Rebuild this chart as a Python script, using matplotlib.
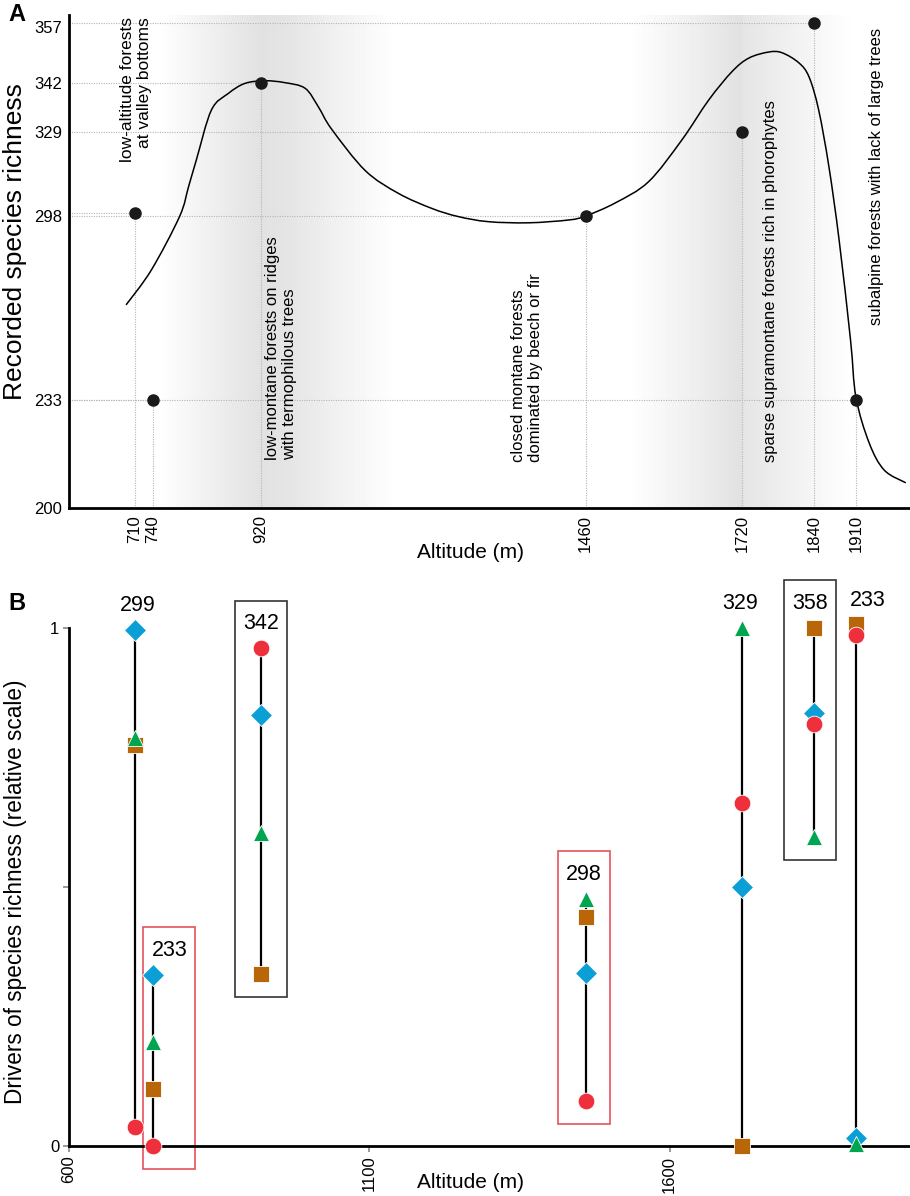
import numpy as np
import matplotlib
matplotlib.use("Agg")
import matplotlib.pyplot as plt
from matplotlib.patches import Rectangle, PathPatch
from matplotlib.path import Path

plt.rcParams['font.family'] = ['Liberation Sans', 'DejaVu Sans']

# sampled altitudes (m) and recorded richness
alts = [710, 740, 920, 1460, 1720, 1840, 1910]
richness = [299, 233, 342, 298, 329, 358, 233]

# fitted curve in panel A
curve_alt = [695, 737, 784, 799, 812, 837, 865, 893, 926,
             959, 993, 1015, 1037, 1093, 1148, 1204, 1248, 1298, 1365,
             1432, 1460, 1510, 1565, 1620, 1665, 1704, 1732, 1765, 1787,
             1815, 1832, 1848, 1865, 1882, 1901, 1910, 1932,
             1957, 1993]
curve_rich = [266.6, 278.9, 297.8, 308.8, 318.7, 334.8, 339.2, 341.9, 342.6,
              342.1, 340.6, 335.7, 329.8, 314.8, 306.4, 300.8, 297.8, 296.0, 295.6,
              296.6, 298.0, 302.9, 310.7, 326.0, 337.5, 345.1, 348.7, 350.3, 350.1,
              347.4, 343.6, 334.8, 316.2, 289.5, 254.2, 234.0, 219.9,
              211.6, 207.7]

yticks_a = [200, 233, 298, 329, 342, 357]

forest_types = ["low-altitude forests\nat valley bottoms",
                "low-montane forests on ridges\nwith termophilous trees",
                "closed montane forests\ndominated by beech or fir",
                "sparse supramontane forests rich in phorophytes",
                "subalpine forests with lack of large trees"]

# panel B drivers (relative scale)
red_circle = [0.037, 0.0, 0.961, 0.087, 0.662, 0.815, 0.986]
blue_diamond = [0.996, 0.33, 0.832, 0.334, 0.5, 0.836, 0.015]
green_triangle = [0.788, 0.2, 0.605, 0.477, 1.0, 0.597, 0.003]
brown_square = [0.774, 0.11, 0.333, 0.443, 0.0, 1.0, 1.007]

box_colors = [None, '#e8505b', '#333333', '#e8505b', None, '#333333', None]

W, H = 910, 1196
fig = plt.figure(figsize=(W / 100, H / 100), dpi=100)

# ---------------- panel A ----------------
axA = fig.add_axes([69 / W, 1 - 508 / H, 841 / W, 493 / H])
knots_r = [200, 233, 298, 329, 342, 357, 360]
knots_h = [0, 108, 292, 376, 425, 481, 493]
fwd = lambda v: np.interp(v, knots_r, knots_h)
inv = lambda h: np.interp(h, knots_h, knots_r)
axA.set_yscale('function', functions=(fwd, inv))

# grey gradient bands
xs = np.arange(600, 2000, 4)
band = np.maximum(np.interp(xs, [748, 840, 917, 960, 1030, 1140], [0, 0.55, 1, 0.9, 0.55, 0]),
                  np.interp(xs, [1532, 1640, 1715, 1722, 1790, 1900], [0, 0.55, 1, 0.85, 0.55, 0]))
for x0, b in zip(xs, band):
    if b > 0:
        axA.axvspan(x0, x0 + 4, color=str(1 - 0.115 * b), lw=0, zorder=0)

grid_kw = dict(color='#b5b5b5', lw=0.8, linestyle=(0, (1, 1.2)), zorder=1)
for a, r in zip(alts, richness):
    axA.plot([600, a], [r, r], **grid_kw)
    axA.plot([a, a], [200, r], **grid_kw)

# smooth line through the read points (Catmull-Rom drawn as cubic Beziers, in scaled space)
px = np.array(curve_alt, float)
ph = fwd(np.array(curve_rich, float))
P = np.column_stack([px, ph])
Pe = np.vstack([P[0], P, P[-1]])
verts = [P[0]]
codes = [Path.MOVETO]
for i in range(len(P) - 1):
    p0, p1, p2, p3 = Pe[i], Pe[i + 1], Pe[i + 2], Pe[i + 3]
    verts += [p1 + (p2 - p0) / 6, p2 - (p3 - p1) / 6, p2]
    codes += [Path.CURVE4] * 3
verts = np.array(verts)
verts[:, 1] = inv(verts[:, 1])
axA.add_patch(PathPatch(Path(verts, codes), fill=False, ec='black', lw=1.1, zorder=3))

axA.plot(alts, richness, 'o', color='#1a1a1a', ms=8, zorder=4, clip_on=False)

tr = axA.get_xaxis_transform()
txt_kw = dict(transform=tr, rotation=90, fontsize=12, ha='center', zorder=5)
axA.text(712, 0.996, forest_types[0], va='top', multialignment='right',
         **{**txt_kw, 'fontsize': 12.5})
axA.text(953, 0.097, forest_types[1], va='bottom', multialignment='left', **txt_kw)
axA.text(1362, 0.093, forest_types[2], va='bottom', multialignment='left', **txt_kw)
axA.text(1768, 0.093, forest_types[3], va='bottom', **txt_kw)
axA.text(1945, 0.974, forest_types[4], va='top', **txt_kw)

axA.set_xlim(600, 2000)
axA.set_ylim(200, 360)
axA.set_xticks(alts)
axA.set_xticklabels([str(a) for a in alts], rotation=90)
axA.set_yticks(yticks_a)
axA.set_yticklabels([str(t) for t in yticks_a])
axA.tick_params(axis='both', length=0, labelsize=12, pad=5)
axA.yaxis.set_minor_locator(matplotlib.ticker.NullLocator())
for s in ['top', 'right']:
    axA.spines[s].set_visible(False)
for s in ['left', 'bottom']:
    axA.spines[s].set_linewidth(2)
axA.set_xlabel('Altitude (m)', fontsize=15)
axA.set_ylabel('Recorded species richness', fontsize=19)
axA.xaxis.set_label_coords(0.478, -0.071)
axA.yaxis.set_label_coords(-0.05, 0.54)

# ---------------- panel B ----------------
axB = fig.add_axes([69 / W, 1 - 1146 / H, 841 / W, 518 / H])
label_dx = [5, 27, 0, -3, -3, -7, 20]   # metres, label nudges

for i, a in enumerate(alts):
    vals = [red_circle[i], blue_diamond[i], green_triangle[i], brown_square[i]]
    lo, hi = min(vals), max(vals)
    axB.plot([a, a], [lo, hi], color='black', lw=1.6, zorder=3, clip_on=False)
    ly = hi + 0.047
    lx = a + label_dx[i]
    axB.text(lx, ly, str(richness[i]), fontsize=15.5, ha='center', va='center', zorder=6)
    if box_colors[i]:
        axB.add_patch(Rectangle((lx - 43, lo - 0.045), 86, ly + 0.045 - (lo - 0.045),
                                fill=False, ec=box_colors[i], lw=1.2, zorder=2, clip_on=False))

mk = dict(ls='none', mec='white', mew=0.6, clip_on=False)
axB.plot(alts, brown_square, 's', color='#b86608', ms=12, zorder=4, **mk)
axB.plot(alts, blue_diamond, 'D', color='#0aa0d6', ms=11.5, zorder=4.1, **mk)
axB.plot(alts, green_triangle, '^', color='#00a550', ms=12, zorder=4.2, **mk)
axB.plot(alts, red_circle, 'o', color='#ee2f3c', ms=12, zorder=4.3, **mk)

axB.set_xlim(600, 2000)
axB.set_ylim(0, 1)
axB.set_xticks([600, 1100, 1600])
axB.set_xticklabels(['600', '1100', '1600'], rotation=90)
axB.set_yticks([0, 0.5, 1])
axB.set_yticklabels(['0', '', '1'])
axB.tick_params(axis='both', length=4, width=1.2, color='#888888', labelsize=12, pad=3)
for s in ['top', 'right']:
    axB.spines[s].set_visible(False)
for s in ['left', 'bottom']:
    axB.spines[s].set_linewidth(2)
axB.set_xlabel('Altitude (m)', fontsize=15)
axB.set_ylabel('Drivers of species richness (relative scale)', fontsize=16.3)
axB.xaxis.set_label_coords(0.478, -0.052)
axB.yaxis.set_label_coords(-0.05, 0.49)

fig.text(8 / W, 1 - 3 / H, 'A', fontsize=17, fontweight='bold', ha='left', va='top')
fig.text(8 / W, 1 - 592 / H, 'B', fontsize=17, fontweight='bold', ha='left', va='top')

fig.savefig('out.png', dpi=100)
